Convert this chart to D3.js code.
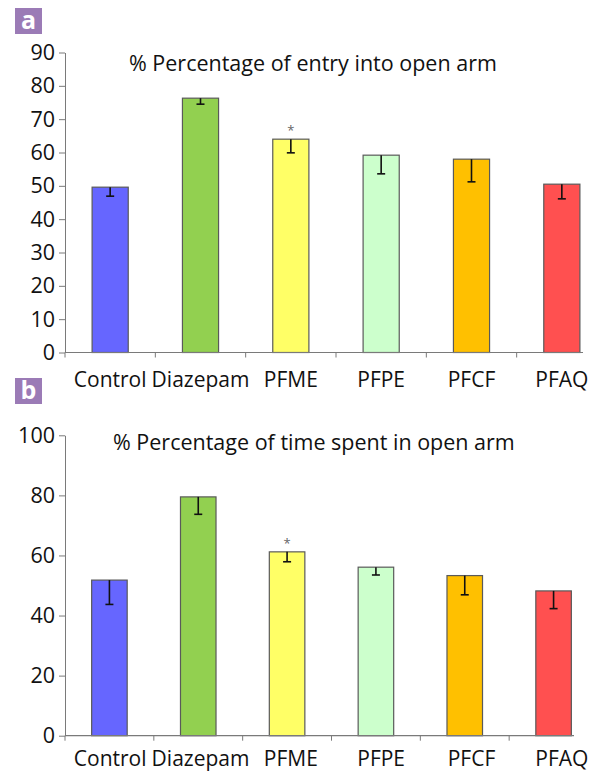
<!DOCTYPE html>
<html><head><meta charset="utf-8">
<script src="https://cdn.jsdelivr.net/npm/d3@7"></script>
<style>
html,body{margin:0;padding:0;background:#fff;}
svg{display:block;}
text{font-family:"Open Sans",sans-serif;}
</style></head>
<body>
<svg id="chart" width="606" height="771"></svg>
<script>
const categories = ["Control","Diazepam","PFME","PFPE","PFCF","PFAQ"];
const colors = ["#6666ff","#92d050","#ffff66","#ccffcc","#ffc000","#ff5050"];
const entryValues = [49.6, 76.3, 64.0, 59.2, 58.0, 50.5];
const entryErrors = [2.7, 1.8, 4.1, 5.6, 6.8, 4.4];
const timeValues = [51.8, 79.5, 61.2, 56.1, 53.3, 48.2];
const timeErrors = [8.1, 5.8, 3.3, 2.6, 6.4, 5.9];
const entryTicks = [0,10,20,30,40,50,60,70,80,90];
const timeTicks = [0,20,40,60,80,100];
const significant = ["PFME"];
const titles = ["% Percentage of entry into open arm","% Percentage of time spent in open arm"];
const panelLetters = ["a","b"];

const svg = d3.select("#chart");
const axisColor = "#7a7a7a";

// label positions shared (both panels use same label positions)
const labelX = d3.scaleBand().domain(categories).range([65, 607]);

const panels = [
  {values: entryValues, errors: entryErrors, ticks: entryTicks, ymax: 90,
   yRange: [352.5, 52.5], xRange: [65, 607], axisEnd: 583,
   title: titles[0], titleX: 129, titleY: 71, labelY: 387, letter: panelLetters[0], letterY: 8},
  {values: timeValues, errors: timeErrors, ticks: timeTicks, ymax: 100,
   yRange: [735.7, 435.3], xRange: [65, 598], axisEnd: 574,
   title: titles[1], titleX: 113, titleY: 450, labelY: 766, letter: panelLetters[1], letterY: 378}
];

panels.forEach(p => {
  const g = svg.append("g");
  const x = d3.scaleBand().domain(categories).range(p.xRange);
  const y = d3.scaleLinear().domain([0, p.ymax]).range(p.yRange);
  const bw = x.bandwidth();
  const barW = bw * 0.4;

  // letter box
  g.append("rect").attr("x", 15).attr("y", p.letterY).attr("width", 27).attr("height", 26)
    .attr("fill", "#9b7bb6");
  g.append("text").attr("x", 28.5).attr("y", p.letterY + 21).attr("text-anchor","middle")
    .attr("fill","#fff").attr("font-weight","bold").attr("font-size", 25).text(p.letter);

  // title
  g.append("text").attr("x", p.titleX).attr("y", p.titleY).attr("font-size", 21.5)
    .attr("fill","#111").text(p.title);

  // y axis
  const yAxis = d3.axisLeft(y).tickValues(p.ticks).tickSize(6).tickSizeOuter(0).tickPadding(4);
  const ya = g.append("g").attr("transform","translate(65,0)").call(yAxis);
  ya.select(".domain").attr("stroke", axisColor);
  ya.selectAll(".tick line").attr("stroke", axisColor);
  ya.selectAll(".tick text").attr("font-size", 21.5).attr("fill","#111")
    .attr("font-family",'"Open Sans",sans-serif');

  // bars
  g.selectAll("rect.bar").data(categories).enter().append("rect").attr("class","bar")
    .attr("x", c => x(c) + (bw - barW)/2)
    .attr("width", barW)
    .attr("y", (c,i) => y(p.values[i]))
    .attr("height", (c,i) => y(0) - y(p.values[i]))
    .attr("fill", (c,i) => colors[i])
    .attr("stroke", "#5a5a5a").attr("stroke-width", 1.2);

  // error bars (downward)
  categories.forEach((c,i) => {
    const cx = x(c) + bw/2;
    const y1 = y(p.values[i]), y2 = y(p.values[i] - p.errors[i]);
    g.append("line").attr("x1",cx).attr("x2",cx).attr("y1",y1).attr("y2",y2)
      .attr("stroke","#111").attr("stroke-width",1.6);
    g.append("line").attr("x1",cx-4).attr("x2",cx+4).attr("y1",y2).attr("y2",y2)
      .attr("stroke","#111").attr("stroke-width",1.6);
    if (significant.includes(c)) {
      g.append("text").attr("x", cx).attr("y", y1 - 4).attr("text-anchor","middle")
        .attr("font-size", 13).attr("fill","#666").text("*");
    }
  });

  // x axis line
  g.append("line").attr("x1", 65).attr("x2", p.axisEnd).attr("y1", y(0)).attr("y2", y(0))
    .attr("stroke", axisColor).attr("stroke-width", 1.2);
  g.selectAll("line.xt").data(categories).enter().append("line").attr("class","xt")
    .attr("x1", c => x(c)).attr("x2", c => x(c))
    .attr("y1", y(0)).attr("y2", y(0) + 5)
    .attr("stroke", axisColor);

  // category labels
  g.selectAll("text.cat").data(categories).enter().append("text").attr("class","cat")
    .attr("x", c => labelX(c) + labelX.bandwidth()/2)
    .attr("y", p.labelY).attr("text-anchor","middle").attr("font-size", 21)
    .attr("fill","#111").text(c => c);
});
</script>
</body></html>
